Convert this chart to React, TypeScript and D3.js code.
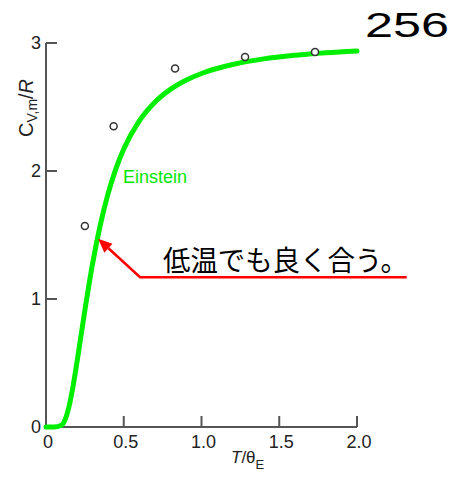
import React from "react";
import * as d3 from "d3";

// Einstein curve values (T/θE, Cv,m/R)
const curveT = [0, 0.05, 0.1, 0.125, 0.15, 0.175, 0.2, 0.25, 0.3, 0.35, 0.4, 0.45, 0.5, 0.6, 0.7, 0.8, 0.9, 1.0, 1.2, 1.4, 1.6, 1.8, 2.0];
const curveC = [0, 0, 0.014, 0.064, 0.17, 0.325, 0.512, 0.912, 1.279, 1.583, 1.827, 2.019, 2.172, 2.392, 2.538, 2.638, 2.709, 2.762, 2.832, 2.876, 2.904, 2.924, 2.938];

// measured points
const pointT = [0.25, 0.435, 0.83, 1.28, 1.73];
const pointC = [1.57, 2.35, 2.8, 2.89, 2.93];

const xTicks = [0, 0.5, 1.0, 1.5, 2.0];
const xTickLabels = ["0", "0.5", "1.0", "1.5", "2.0"];
const yTicks = [0, 1, 2, 3];

const W = 464, H = 479;
const x = d3.scaleLinear().domain([0, 2]).range([46, 357]);
const y = d3.scaleLinear().domain([0, 3]).range([427, 43]);

export default function App() {
  const line = d3
    .line<number>()
    .x((_, i) => x(curveT[i]))
    .y((d) => y(d))
    .curve(d3.curveMonotoneX);
  const path = line(curveC) || "";

  // annotation arrow
  const tip = [x(0.335), y(1.47)];
  const elbow = [x(0.605), y(1.17)];
  const end = [x(2.32), y(1.17)];
  const ang = Math.atan2(tip[1] - elbow[1], tip[0] - elbow[0]);
  const aL = 14, aW = 6;
  const bx = tip[0] - aL * Math.cos(ang), by = tip[1] - aL * Math.sin(ang);
  const head = [
    [tip[0], tip[1]],
    [bx + aW * Math.sin(ang), by - aW * Math.cos(ang)],
    [bx - aW * Math.sin(ang), by + aW * Math.cos(ang)],
  ];

  const font = "'Liberation Sans', Arial, sans-serif";
  const axisColor = "#555";

  return (
    <svg width={W} height={H} style={{ position: "absolute", left: 0, top: 0, background: "#fff" }} fontFamily={font}>
      {/* axes */}
      <line x1={x(0)} x2={x(0)} y1={y(3)} y2={y(0) + 1} stroke={axisColor} strokeWidth={2} />
      <line x1={x(0) - 1} x2={x(2)} y1={y(0)} y2={y(0)} stroke={axisColor} strokeWidth={2} />
      {yTicks.map((t) => (
        <g key={"y" + t}>
          <line x1={x(0)} x2={x(0) + 11} y1={y(t)} y2={y(t)} stroke={axisColor} strokeWidth={2} />
          <text x={x(0) - 5} y={y(t) + 6} textAnchor="end" fontSize={18} fill="#222">{t}</text>
        </g>
      ))}
      {xTicks.map((t, i) => (
        <g key={"x" + t}>
          <line x1={x(t)} x2={x(t)} y1={y(0)} y2={y(0) - 11} stroke={axisColor} strokeWidth={2} />
          <text x={x(t) + 2} y={y(0) + 21} textAnchor="middle" fontSize={18} fill="#222">{xTickLabels[i]}</text>
        </g>
      ))}
      {/* axis titles */}
      <text x={231} y={463} textAnchor="start" fontSize={17} fill="#222">
        <tspan fontStyle="italic">T</tspan>/θ<tspan fontSize={13} dy={6}>E</tspan>
      </text>
      <text transform="translate(33,137) rotate(-90)" textAnchor="start" fontSize={20} fill="#222">
        <tspan>C</tspan><tspan fontSize={14} dy={4}>V,m</tspan><tspan dy={-4}>/</tspan><tspan fontStyle="italic">R</tspan>
      </text>
      {/* curve */}
      <path d={path} fill="none" stroke="#00ee00" strokeWidth={5} strokeLinejoin="round" strokeLinecap="round" />
      <text x={123} y={183} fontSize={18} fill="#00e600">Einstein</text>
      {/* points */}
      {pointT.map((t, i) => (
        <circle key={i} cx={x(t)} cy={y(pointC[i])} r={3.5} fill="#fff" stroke="#333" strokeWidth={1.5} />
      ))}
      {/* annotation */}
      <polyline points={`${end[0]},${end[1]} ${elbow[0]},${elbow[1]} ${bx},${by}`} fill="none" stroke="#ff0000" strokeWidth={2.5} />
      <polygon points={head.map((p) => p.join(",")).join(" ")} fill="#ff0000" />
      <text x={163} y={271} fontSize={28} textLength={245} lengthAdjust="spacingAndGlyphs" fill="#000" fontFamily="'Noto Sans CJK JP', sans-serif">低温でも良く合う。</text>
      <text x={365} y={37} fontSize={35} textLength={84} lengthAdjust="spacingAndGlyphs" fill="#000">256</text>
    </svg>
  );
}
